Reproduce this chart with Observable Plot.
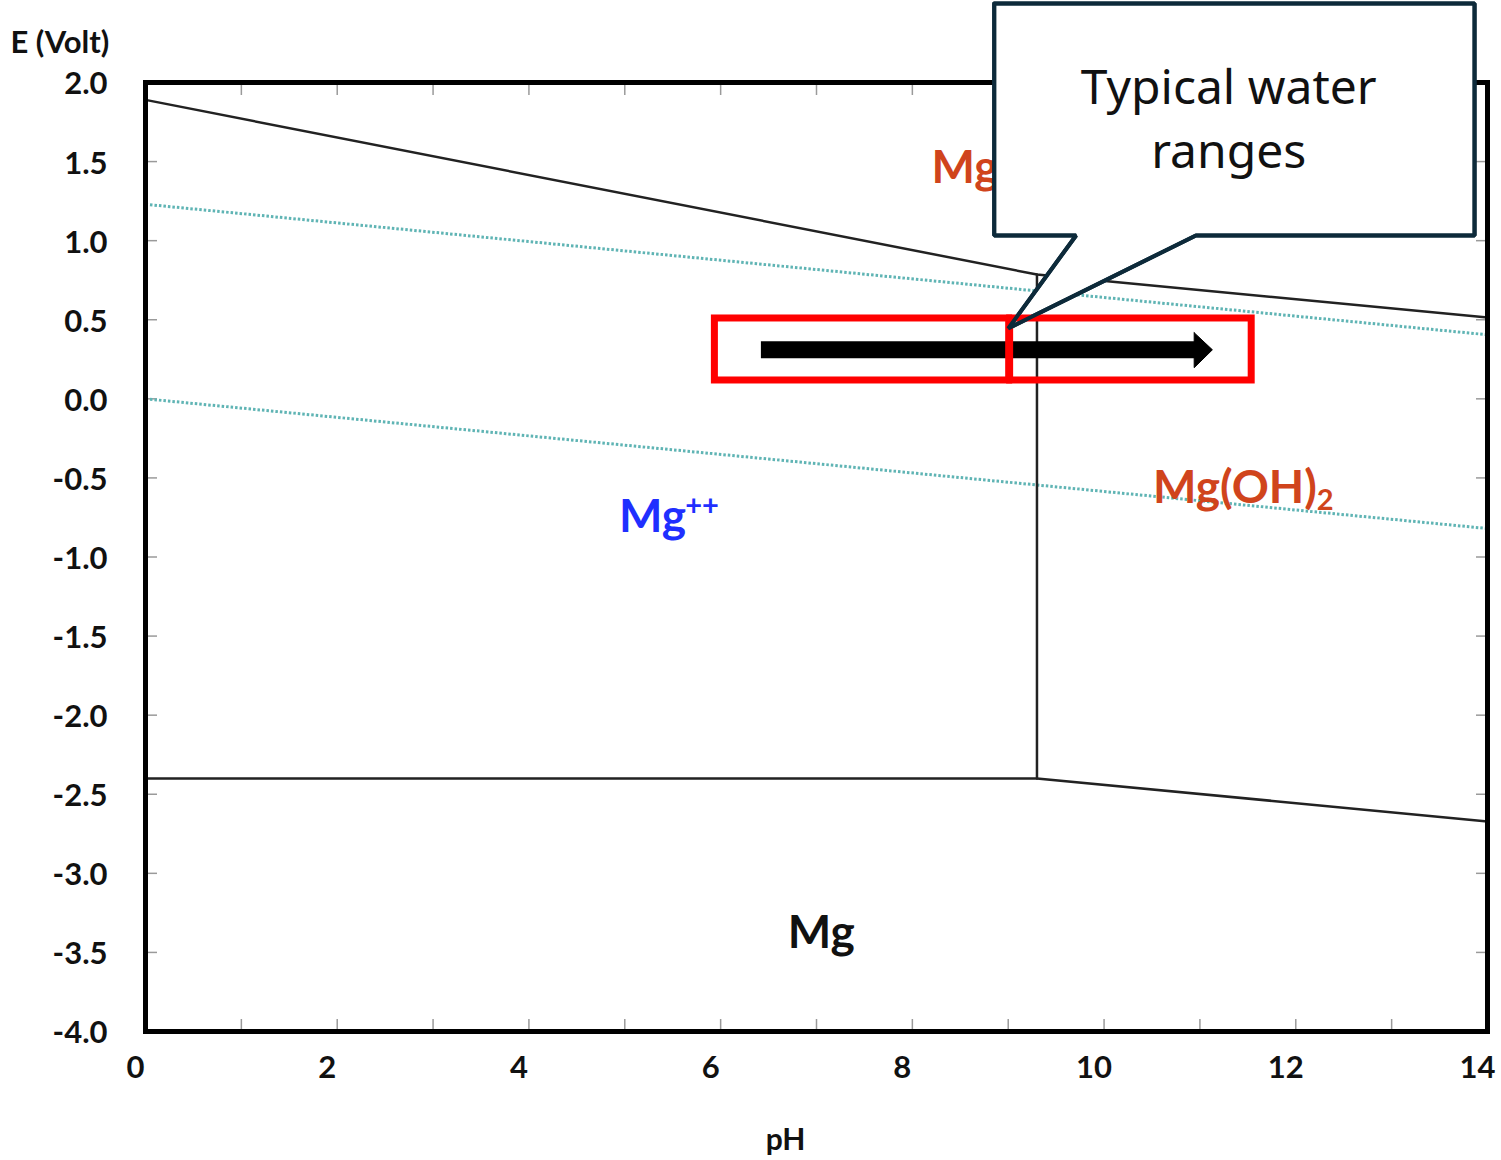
<!DOCTYPE html>
<html><head><meta charset="utf-8">
<script src="https://cdn.jsdelivr.net/npm/d3@7"></script>
<script src="https://cdn.jsdelivr.net/npm/@observablehq/plot@0.6"></script>
<style>body{margin:0;background:#fff}</style>
</head><body><div id="chart"></div>
<script>
// ---- axis ticks ----
const pHLabels = [0, 2, 4, 6, 8, 10, 12, 14];
const pHMinor = [0, 1, 2, 3, 4, 5, 6, 7, 8, 9, 10, 11, 12, 13, 14];
const eTicks = [2.0, 1.5, 1.0, 0.5, 0.0, -0.5, -1.0, -1.5, -2.0, -2.5, -3.0, -3.5, -4.0];

// ---- phase boundaries (pH, E) ----
const upperPH = [0, 9.3, 14];
const upperE = [1.89, 0.786, 0.514];
const verticalPH = [9.3, 9.3];
const verticalE = [0.786, -2.40];
const lowerPH = [0, 9.3, 14];
const lowerE = [-2.40, -2.40, -2.672];

// ---- water stability lines ----
const waterO2PH = [0, 14];
const waterO2E = [1.23, 0.405];
const waterH2PH = [0, 14];
const waterH2E = [0.0, -0.82];

// ---- species labels ----
const speciesText = ["Mg", "Mg(OH)", "Mg", "Mg"];
const speciesPH = [4.94, 10.51, 6.70, 8.2];
const speciesE = [-0.75, -0.567, -3.38, 1.456];
const speciesColor = ["#1f2fff", "#d0441c", "#111111", "#d0441c"];
const scriptText = ["++", "2"];
const scriptPH = [5.63, 12.22];
const scriptE = [-0.674, -0.645];
const scriptColor = ["#1f2fff", "#d0441c"];

// ---- annotation: typical water ranges ----
const rangeX1 = [5.94, 9.02];
const rangeX2 = [9.01, 11.54];
const rangeE1 = [0.116, 0.116];
const rangeE2 = [0.508, 0.508];
const arrowShaftPH = [6.42, 10.97];
const arrowShaftE = [0.31, 0.31];
const arrowHeadPH = [10.94, 11.13, 10.94, 10.94];
const arrowHeadE = [0.418, 0.31, 0.197, 0.418];
const calloutPH = [8.854, 13.865, 13.865, 10.958, 9.0, 9.708, 8.854, 8.854];
const calloutE = [2.499, 2.499, 1.033, 1.033, 0.445, 1.033, 1.033, 2.499];
const calloutText = ["Typical water\nranges"];
const calloutTextPH = [11.3];
const calloutTextE = [1.79];

const zip = (xs, ys) => xs.map((x, i) => ({x, y: ys[i]}));
const FONT = "Lato, 'Open Sans', sans-serif";

const species = speciesText.map((t, i) => ({t, x: speciesPH[i], y: speciesE[i], c: speciesColor[i]}));
const scripts = scriptText.map((t, i) => ({t, x: scriptPH[i], y: scriptE[i], c: scriptColor[i]}));
const ranges = rangeX1.map((x1, i) => ({x1, x2: rangeX2[i], y1: rangeE1[i], y2: rangeE2[i]}));
const callout = zip(calloutPH, calloutE);
const hyphenFixed = d => d.toFixed(1);

const chart = Plot.plot({
  width: 1501,
  height: 1160,
  marginLeft: 145,
  marginRight: 14,
  marginTop: 82,
  marginBottom: 129,
  x: {domain: [0, 14]},
  y: {domain: [-4, 2]},
  style: {fontFamily: FONT, background: "white"},
  marks: [
    // inner gray tick marks
    Plot.axisX({anchor: "bottom", ticks: pHMinor, tickSize: -12, tickFormat: () => "", stroke: "#9a9a9a", strokeWidth: 1.5, label: null}),
    Plot.axisX({anchor: "top", ticks: pHMinor, tickSize: -12, tickFormat: () => "", stroke: "#9a9a9a", strokeWidth: 1.5, label: null}),
    Plot.axisY({anchor: "left", ticks: eTicks, tickSize: -12, tickFormat: () => "", stroke: "#9a9a9a", strokeWidth: 1.5, label: null}),
    Plot.axisY({anchor: "right", ticks: eTicks, tickSize: -12, tickFormat: () => "", stroke: "#9a9a9a", strokeWidth: 1.5, label: null}),
    // tick labels
    Plot.axisX({anchor: "bottom", ticks: pHLabels, tickSize: 0, tickPadding: 24, dx: -10, tickFormat: d => String(d),
      fontSize: 31, fontWeight: "bold", fill: "#111", label: null}),
    Plot.axisY({anchor: "left", ticks: eTicks, tickSize: 0, tickPadding: 38, dy: 2, tickFormat: hyphenFixed,
      fontSize: 31, fontWeight: "bold", fill: "#111", label: null}),
    // water lines
    Plot.line(zip(waterO2PH, waterO2E), {x: "x", y: "y", stroke: "#5fb4b4", strokeWidth: 3, strokeDasharray: "2.5,2", strokeLinecap: "butt"}),
    Plot.line(zip(waterH2PH, waterH2E), {x: "x", y: "y", stroke: "#5fb4b4", strokeWidth: 3, strokeDasharray: "2.5,2", strokeLinecap: "butt"}),
    // boundaries
    Plot.line(zip(upperPH, upperE), {x: "x", y: "y", stroke: "#222", strokeWidth: 2.5}),
    Plot.line(zip(verticalPH, verticalE), {x: "x", y: "y", stroke: "#222", strokeWidth: 2.5}),
    Plot.line(zip(lowerPH, lowerE), {x: "x", y: "y", stroke: "#222", strokeWidth: 2.5}),
    // species labels
    Plot.text(species, {x: "x", y: "y", text: "t", fill: "c", textAnchor: "start", lineAnchor: "middle",
      fontSize: 46, fontWeight: "bold"}),
    Plot.text(scripts, {x: "x", y: "y", text: "t", fill: "c", textAnchor: "start", lineAnchor: "middle",
      fontSize: 29, fontWeight: "bold"}),
    // frame
    Plot.frame({stroke: "black", strokeWidth: 5}),
    // axis titles
    Plot.text(["E (Volt)"], {frameAnchor: "top-left", dx: -135, dy: -39, textAnchor: "start", lineAnchor: "middle",
      fontSize: 31, fontWeight: "bold", fill: "#111"}),
    Plot.text(["pH"], {frameAnchor: "bottom", dx: -31, dy: 109, lineAnchor: "middle",
      fontSize: 30, fontWeight: "bold", fill: "#111"}),
    // arrow
    Plot.line(zip(arrowShaftPH, arrowShaftE), {x: "x", y: "y", stroke: "black", strokeWidth: 17, strokeLinecap: "butt"}),
    Plot.line(zip(arrowHeadPH, arrowHeadE), {x: "x", y: "y", fill: "black", stroke: "black", strokeWidth: 1}),
    // callout fill
    Plot.line(callout, {x: "x", y: "y", fill: "white", stroke: "#0d2a3a", strokeWidth: 4, strokeLinejoin: "miter"}),
    // red range boxes
    Plot.rect(ranges, {x1: "x1", x2: "x2", y1: "y1", y2: "y2", fill: "none", stroke: "#ff0000", strokeWidth: 7}),
    // callout outline on top
    Plot.line(callout, {x: "x", y: "y", fill: "none", stroke: "#0d2a3a", strokeWidth: 4, strokeLinejoin: "miter"}),
    Plot.text(calloutText, {x: calloutTextPH, y: calloutTextE, text: d => d, fontSize: 48, lineHeight: 1.33,
      fontFamily: "'Noto Sans', 'Open Sans', sans-serif", fill: "#111", lineAnchor: "middle"})
  ]
});
document.getElementById("chart").appendChild(chart);
</script>
</body></html>
